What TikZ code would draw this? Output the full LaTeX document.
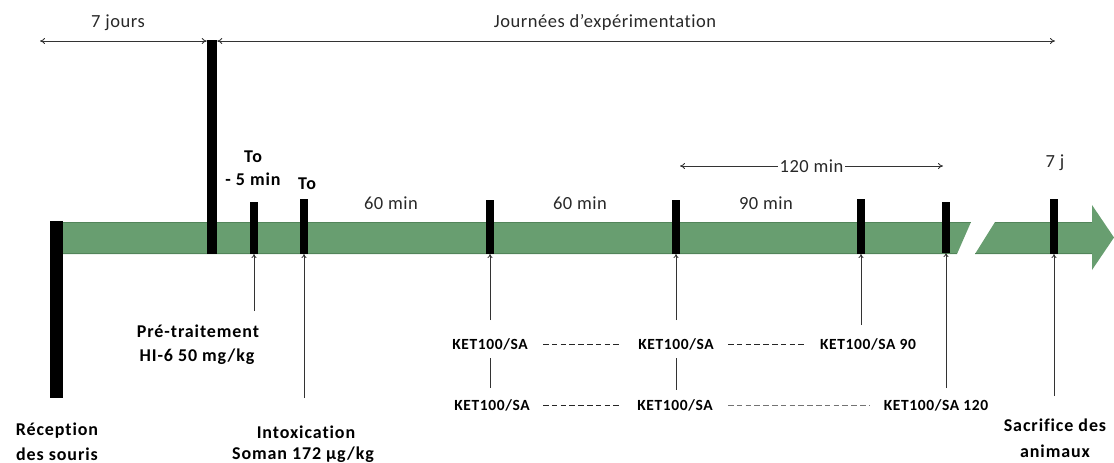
\documentclass[tikz,border=0pt]{standalone}
\usepackage{fontspec}
\setmainfont{Carlito}
\newfontfamily\boldsp{Carlito}[LetterSpace=5,Ligatures=NoCommon]
\newfontfamily\ketsp{Carlito}[LetterSpace=4,Ligatures=NoCommon]
\newfontfamily\lightsp{Carlito}[LetterSpace=3,Ligatures=NoCommon]
\usetikzlibrary{arrows.meta}
\definecolor{barfill}{RGB}{104,158,112}
\definecolor{baredge}{RGB}{82,132,90}
\definecolor{lighttext}{RGB}{40,40,40}
\tikzset{
  tickbar/.style={fill=black,draw=none,inner sep=0pt,anchor=south,minimum width=7.5pt},
  lbl/.style={text=lighttext,font=\lightsp\fontsize{18.5}{20}\selectfont,inner sep=0pt},
  blbl/.style={text=black,font=\boldsp\fontsize{18}{20}\selectfont\bfseries,inner sep=0pt,align=center},
  ket/.style={text=black,font=\ketsp\fontsize{15.5}{17}\selectfont\bfseries,inner sep=0pt},
  uparrow/.style={draw=black!80,line width=0.8pt,-{To[length=4pt,width=5pt]}},
  plainline/.style={draw=black!80,line width=0.8pt},
  dim/.style={draw=black!80,line width=0.8pt,{To[length=5pt,width=6pt]}-{To[length=5pt,width=6pt]}},
  dashline/.style={draw=black!85,line width=0.9pt,dash pattern=on 5.5pt off 3.3pt},
  dashgrey/.style={draw=black!55,line width=0.9pt,dash pattern=on 5.5pt off 3.3pt}
}
\begin{document}
\begin{tikzpicture}[x=1pt,y=-1pt]
\useasboundingbox (0,0) rectangle (1114,463);
% green timeline
\fill[barfill] (63,222) -- (971,222) -- (957,254) -- (63,254) -- cycle;
\draw[baredge,line width=1.2pt] (63,222.5) -- (970.8,222.5);
\draw[baredge,line width=1.2pt] (63,253.5) -- (957.2,253.5);
\fill[barfill] (995,222) -- (1092,222) -- (1092,205) -- (1114,237.5) -- (1092,270) -- (1092,254) -- (975,254) -- cycle;
\draw[baredge,line width=1.2pt] (994.8,222.5) -- (1092,222.5);
\draw[baredge,line width=1.2pt] (975.2,253.5) -- (1092,253.5);
% bars and ticks
\node[tickbar,minimum width=13pt,minimum height=177pt] (recep) at (56.5,398) {};
\node[tickbar,minimum width=10pt,minimum height=214pt] (big) at (212,254) {};
\node[tickbar,minimum height=52pt] (t1) at (254,254) {};
\node[tickbar,minimum height=55pt] (t2) at (304,254) {};
\node[tickbar,minimum height=54pt] (t3) at (490,254) {};
\node[tickbar,minimum height=54pt] (t4) at (676,254) {};
\node[tickbar,minimum height=55pt] (t5) at (861,254) {};
\node[tickbar,minimum height=51pt] (t6) at (946,253) {};
\node[tickbar,minimum height=55pt] (t7) at (1054,254) {};
% top dimension arrows
\node[lbl] (sept) at (118,23) {7 jours};
\node[lbl] (journ) at (605,22) {Journées d’expérimentation};
\coordinate (d1) at (40,41);
\coordinate (d2) at (1055,41);
\draw[dim] (d1) -- (d1 -| big.west);
\draw[dim] (d2 -| big.east) -- (d2);
% top labels
\node[blbl] (to1) at (253,157) {To};
\node[blbl] (moins) at (253,179) {- 5 min};
\node[blbl] (to2) at (307,184) {To};
\node[lbl] (m1) at (391,203) {60 min};
\node[lbl] (m2) at (580,203) {60 min};
\node[lbl] (m3) at (766,203) {90 min};
\node[lbl] (septj) at (1055,163) {7 j};
\coordinate (a1) at (680,166);
\coordinate (a2) at (943,166);
\draw[dim] (a1) -- node[lbl,fill=white,inner xsep=2pt,inner ysep=1pt] (m120) {120 min} (a2);
% lower arrows
\coordinate (u1) at (254,311);
\coordinate (u2) at (304,398);
\coordinate (u3) at (490,320);
\coordinate (u4) at (676,320);
\coordinate (u5) at (861,325);
\coordinate (u6) at (946,388);
\coordinate (u7) at (1054,396);
\draw[uparrow] (u1) -- (t1.south);
\draw[uparrow] (u2) -- (t2.south);
\draw[uparrow] (u3) -- (t3.south);
\draw[uparrow] (u4) -- (t4.south);
\draw[uparrow] (u5) -- (t5.south);
\draw[uparrow] (u6) -- (t6.south);
\draw[uparrow] (u7) -- (t7.south);
% bottom labels
\node[blbl] (pre) at (198,331) {Pré-traitement};
\node[blbl] (hi6) at (197,357) {HI-6 50 mg/kg};
\node[blbl] (rec1) at (57,431) {Réception};
\node[blbl] (rec2) at (57,454) {des souris};
\node[blbl] (int1) at (306,432) {Intoxication};
\node[blbl] (int2) at (303,455) {Soman 172 µg/kg};
\node[blbl] (sac1) at (1055,425) {Sacrifice des};
\node[blbl] (sac2) at (1055,451) {animaux};
% KET rows
\node[ket] (k11) at (490,344) {KET100/SA};
\node[ket] (k12) at (676,344) {KET100/SA};
\node[ket] (k13) at (868,344) {KET100/SA 90};
\node[ket] (k21) at (492,405) {KET100/SA};
\node[ket] (k22) at (675,405) {KET100/SA};
\node[ket] (k23) at (936,405) {KET100/SA 120};
\coordinate (v1a) at (490,358); \coordinate (v1b) at (490,388);
\coordinate (v2a) at (676,358); \coordinate (v2b) at (676,390);
\draw[plainline] (v1a) -- (v1b);
\draw[plainline] (v2a) -- (v2b);
\coordinate (h1a) at (543,344); \coordinate (h1b) at (622,344);
\coordinate (h2a) at (728,344); \coordinate (h2b) at (807,344);
\coordinate (h3a) at (543,405); \coordinate (h3b) at (622,405);
\coordinate (h4a) at (728,405); \coordinate (h4b) at (870,405);
\draw[dashline] (h1a) -- (h1b);
\draw[dashline] (h2a) -- (h2b);
\draw[dashline] (h3a) -- (h3b);
\draw[dashgrey] (h4a) -- (h4b);
\end{tikzpicture}
\end{document}
